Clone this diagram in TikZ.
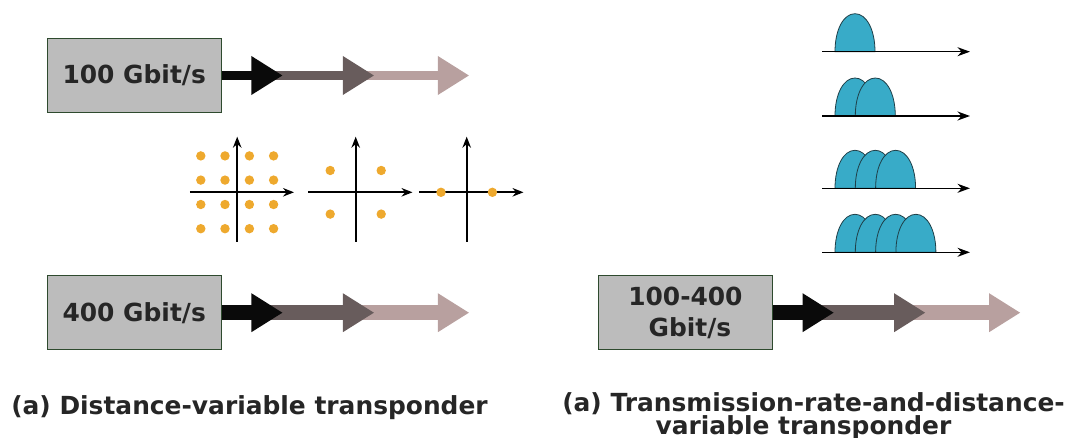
\documentclass[tikz,border=0pt]{standalone}
\usepackage{fontspec}
\setmainfont{DejaVu Sans}
\usetikzlibrary{arrows.meta,positioning,calc}
\definecolor{boxfill}{HTML}{BCBCBC}
\definecolor{boxline}{HTML}{2E4A2E}
\definecolor{txt}{HTML}{262626}
\definecolor{blk}{HTML}{0A0A0A}
\definecolor{gry}{HTML}{685C5C}
\definecolor{pnk}{HTML}{B8A09F}
\definecolor{dotc}{HTML}{EEA92E}
\definecolor{humpc}{HTML}{38ABC8}
\definecolor{humpline}{HTML}{1F3F48}
\tikzstyle{block}=[draw=boxline, fill=boxfill, line width=1.2pt, minimum width=174pt, minimum height=74pt, inner sep=0pt, align=center, text=txt, font=\bfseries\fontsize{24.9}{31}\selectfont]
\tikzstyle{fat}=[-{Triangle[length=31.5pt,width=36.7pt]}]
\tikzstyle{axis}=[line width=1.6pt,-{Stealth[length=11pt,width=8.5pt]}]
\tikzstyle{specaxis}=[line width=1.4pt,-{Stealth[length=12.5pt,width=9pt]}]
\tikzstyle{hump}=[fill=humpc, draw=humpline, line width=0.8pt]
\tikzstyle{caption}=[text=txt, font=\bfseries\fontsize{24.9}{20.7}\selectfont, align=center, anchor=base, inner sep=0pt]

\begin{document}
\begin{tikzpicture}[x=1pt,y=-1pt,node distance=162pt and 376pt]
\useasboundingbox (0,0) rectangle (1072,438);
\node (r100) [block] at (134.2,75.5) {100 Gbit/s};
\node (r400) [block,below=of r100] {400 Gbit/s};
\node (rvar) [block,right=of r400] {100-400\\\hspace*{9pt}Gbit/s};

% fading signal arrows
\foreach \b/\w in {r100/9pt,r400/15pt,rvar/15pt}{
  \coordinate (\b-a) at ($(\b.east)+(29.5,0)$);
  \coordinate (\b-b) at ($(\b.east)+(61,0)$);
  \coordinate (\b-c) at ($(\b.east)+(121,0)$);
  \coordinate (\b-d) at ($(\b.east)+(152.5,0)$);
  \coordinate (\b-e) at ($(\b.east)+(247.5,0)$);
  \draw[fat,pnk,line width=\w] (\b-c) -- (\b-e);
  \draw[fat,gry,line width=\w] (\b-a) -- (\b-d);
  \draw[fat,blk,line width=\w] (\b.east) -- (\b-b);
}

% constellations
\coordinate (qam) at (237.2,192.3);
\coordinate (qpsk) at (355.7,192.3);
\coordinate (bpsk) at (466.7,192.3);
\foreach \o in {qam,qpsk,bpsk}{
  \draw[axis] ($(\o)+(-47.3,0)$) -- ($(\o)+(56.8,0)$);
  \draw[axis] ($(\o)+(0,49.4)$) -- ($(\o)+(0,-55.6)$);
}
\foreach \i in {-36.4,-12.2,12.2,36.4}
  \foreach \j in {-36.4,-12.2,12.2,36.4}
    \fill[dotc] ($(qam)+(\i,\j)$) circle[radius=4.7pt];
\foreach \i in {-25.5,25.5}
  \foreach \j in {-21.8,21.8}
    \fill[dotc] ($(qpsk)+(\i,\j)$) circle[radius=4.7pt];
\foreach \i in {-25.7,25.7}
  \fill[dotc] ($(bpsk)+(\i,0)$) circle[radius=4.7pt];

% spectra
\foreach \y/\n in {51.7/1,116/2,188.3/3,252.3/4}{
  \foreach \k in {1,...,\n}
    \draw[hump] ({835+20.3*(\k-1)},\y) .. controls +(0,-22) and +(-11.5,0) .. ++(20,-38)
      .. controls +(11.5,0) and +(0,-22) .. ++(20,38) -- cycle;
  \draw[specaxis] (822,\y) -- (970,\y);
}

\node (capl) [caption] at (249.5,415) {(a) Distance-variable transponder};
\node (capr) [caption] at (813.5,435) {(a) Transmission-rate-and-distance-\\variable transponder\hspace*{20pt}};
\end{tikzpicture}
\end{document}
